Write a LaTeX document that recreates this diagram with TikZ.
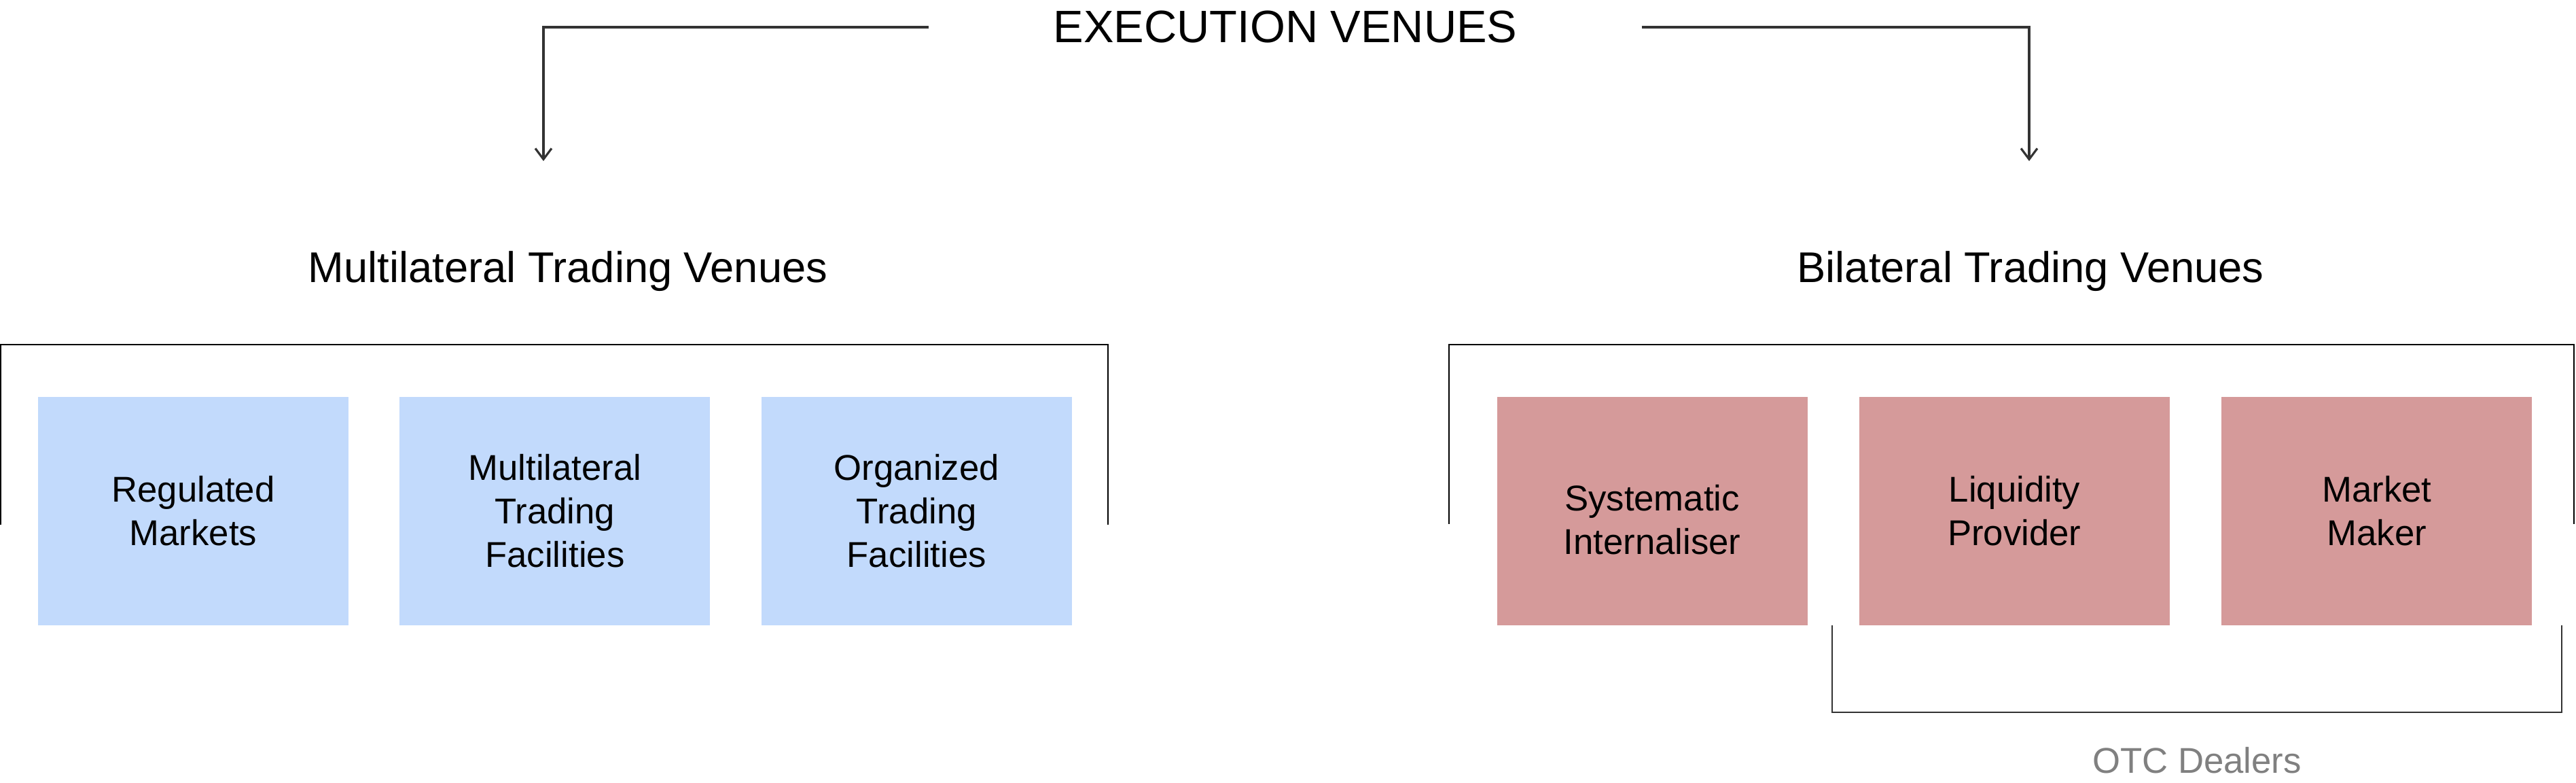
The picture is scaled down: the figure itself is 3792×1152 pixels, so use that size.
\documentclass[tikz,border=0pt]{standalone}
\usepackage{fontspec}
\setmainfont{Liberation Sans}
\usetikzlibrary{positioning,arrows.meta}

\definecolor{mtvblue}{HTML}{C2DAFC}
\definecolor{btvred}{HTML}{D59A9A}
\definecolor{linegray}{HTML}{333333}
\definecolor{otcgray}{HTML}{808080}

\tikzset{
  venuebox/.style={minimum width=45.7mm, minimum height=33.6mm, inner sep=0pt, align=center, font=\fontsize{15}{18.2}\selectfont},
  mtvbox/.style={venuebox, fill=mtvblue},
  btvbox/.style={venuebox, fill=btvred},
  heading/.style={font=\fontsize{18}{22}\selectfont},
  bracket/.style={line width=0.6pt},
}

\begin{document}
\begin{tikzpicture}[x=0.1mm, y=-0.1mm, >={Straight Barb[length=1.6mm,width=2.4mm]}]
\useasboundingbox (0,0) rectangle (3792,1152);

% title and its two arrows
\node[font=\fontsize{19}{23}\selectfont, minimum width=104.8mm, inner sep=0pt] (ev) at (1892,40) {EXECUTION VENUES};
\coordinate (mtvtip) at (800,237);
\coordinate (btvtip) at (2987,237);
\draw [->, line width=0.9pt, linegray] (ev.west) -| (mtvtip);
\draw [->, line width=0.9pt, linegray] (ev.east) -| (btvtip);

\node[heading, anchor=base] (mtv) at (836,416) {Multilateral Trading Venues};
\node[heading, anchor=base] (btv) at (2989,416) {Bilateral Trading Venues};

% multilateral
\draw [bracket] (1,772) |- (1631,507) -- (1631,772);
\node[mtvbox] (rm) at (284.5,752) {Regulated\\Markets};
\node[mtvbox, right=7.4mm of rm] (mtf) {Multilateral\\Trading\\Facilities};
\node[mtvbox, right=7.4mm of mtf] (otf) {Organized\\Trading\\Facilities};

% bilateral
\draw [bracket] (2133,771) |- (3789,507) -- (3789,771);
\node[btvbox] (si) at (2432,752) {};
\node[font=\fontsize{15}{18.2}\selectfont, align=center, inner sep=0pt] (sitext) at ([yshift=-1.3mm]si.center) {Systematic\\Internaliser};
\node[btvbox, right=7.5mm of si] (lp) {Liquidity\\Provider};
\node[btvbox, right=7.5mm of lp] (mm) {Market\\Maker};

% otc dealers
\draw [bracket, linegray] (2697,920) |- (3771,1048) -- (3771,920);
\node[font=\fontsize{15}{18}\selectfont, text=otcgray, anchor=base] (otc) at (3234,1138) {OTC Dealers};
\end{tikzpicture}
\end{document}
